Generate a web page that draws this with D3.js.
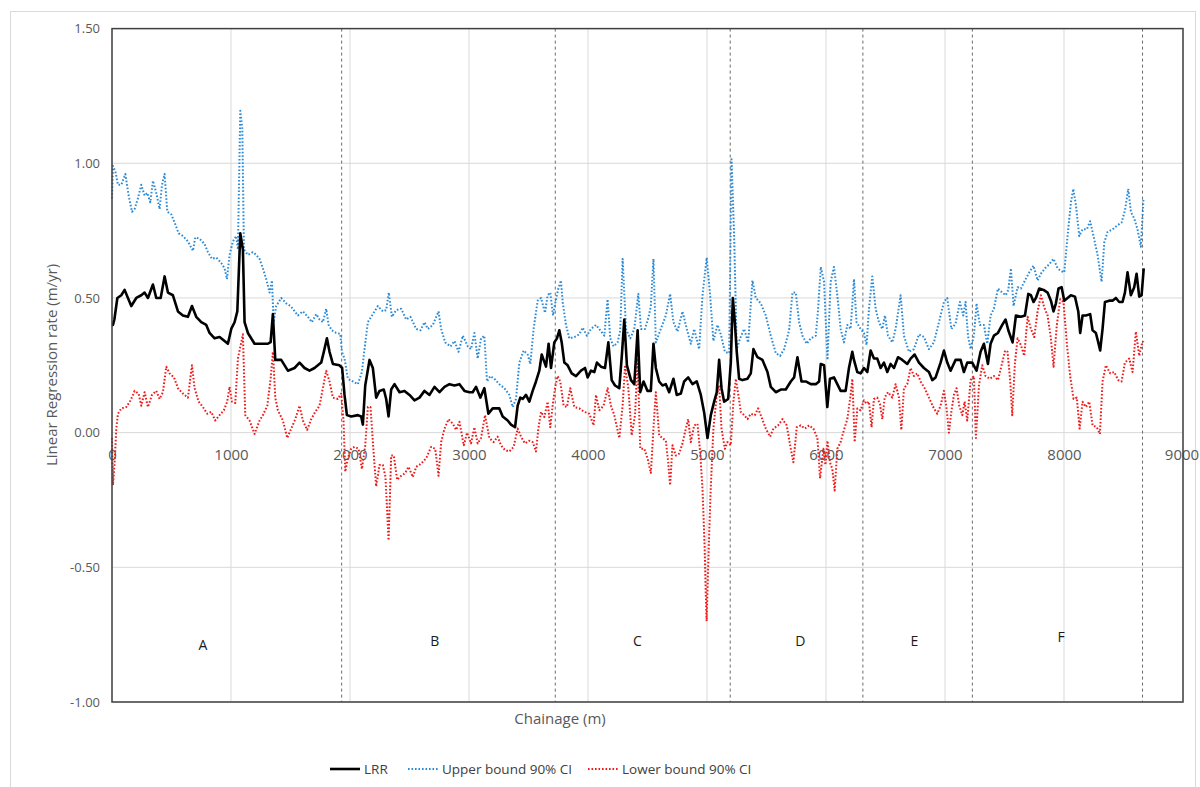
<!DOCTYPE html>
<html>
<head>
<meta charset="utf-8">
<script src="https://cdn.jsdelivr.net/npm/d3@7"></script>
<style>
  body { margin: 0; background: #fff; }
  svg { font-family: "Open Sans", sans-serif; }
</style>
</head>
<body>
<svg width="1200" height="787"></svg>
<script>
// [chainage (m), rate (m/yr)]
const lrr = [[0,0.40],[8,0.40],[20,0.42],[45,0.50],[78,0.51],[106,0.53],[134,0.50],[162,0.47],[204,0.50],[246,0.51],[274,0.52],[302,0.50],[344,0.55],[372,0.50],[409,0.50],[442,0.58],[470,0.52],[512,0.51],[554,0.45],[596,0.435],[638,0.43],[672,0.47],[708,0.43],[750,0.41],[792,0.40],[820,0.37],[862,0.35],[904,0.355],[946,0.34],[974,0.33],[1002,0.385],[1030,0.41],[1053,0.45],[1078,0.74],[1100,0.68],[1114,0.41],[1142,0.37],[1198,0.33],[1254,0.33],[1310,0.33],[1333,0.336],[1352,0.44],[1372,0.27],[1422,0.27],[1478,0.23],[1534,0.24],[1576,0.26],[1618,0.24],[1660,0.23],[1702,0.24],[1758,0.26],[1780,0.30],[1806,0.35],[1828,0.30],[1856,0.255],[1912,0.25],[1934,0.24],[1954,0.14],[1974,0.065],[2010,0.06],[2066,0.065],[2094,0.06],[2108,0.03],[2128,0.175],[2164,0.27],[2192,0.24],[2220,0.13],[2248,0.155],[2284,0.16],[2304,0.125],[2324,0.06],[2346,0.16],[2374,0.18],[2416,0.15],[2458,0.155],[2500,0.14],[2542,0.12],[2584,0.13],[2626,0.155],[2668,0.14],[2710,0.17],[2752,0.15],[2794,0.17],[2836,0.18],[2878,0.175],[2920,0.18],[2962,0.155],[3004,0.15],[3031,0.15],[3059,0.17],[3095,0.13],[3129,0.165],[3163,0.07],[3199,0.09],[3255,0.09],[3283,0.06],[3325,0.045],[3353,0.03],[3387,0.02],[3409,0.10],[3431,0.13],[3451,0.125],[3479,0.14],[3507,0.115],[3535,0.155],[3563,0.19],[3591,0.23],[3611,0.29],[3627,0.27],[3647,0.245],[3669,0.33],[3689,0.24],[3717,0.335],[3739,0.35],[3759,0.38],[3779,0.335],[3801,0.26],[3829,0.25],[3863,0.22],[3899,0.21],[3941,0.23],[3975,0.24],[3997,0.205],[4025,0.23],[4053,0.225],[4075,0.26],[4109,0.245],[4143,0.24],[4171,0.335],[4199,0.195],[4227,0.175],[4263,0.165],[4285,0.29],[4305,0.42],[4327,0.25],[4361,0.195],[4389,0.18],[4417,0.38],[4439,0.15],[4467,0.19],[4500,0.155],[4528,0.155],[4550,0.33],[4570,0.24],[4598,0.19],[4626,0.175],[4654,0.18],[4682,0.15],[4718,0.20],[4746,0.14],[4780,0.145],[4808,0.19],[4842,0.205],[4878,0.18],[4914,0.19],[4948,0.14],[4976,0.075],[5004,-0.02],[5032,0.065],[5060,0.115],[5082,0.15],[5102,0.27],[5122,0.165],[5144,0.115],[5178,0.125],[5200,0.26],[5217,0.50],[5234,0.41],[5250,0.30],[5270,0.20],[5298,0.195],[5340,0.20],[5368,0.22],[5390,0.31],[5424,0.28],[5466,0.27],[5508,0.225],[5536,0.17],[5578,0.15],[5620,0.16],[5662,0.16],[5704,0.19],[5732,0.205],[5760,0.28],[5794,0.19],[5830,0.19],[5872,0.18],[5914,0.18],[5942,0.19],[5956,0.255],[5984,0.25],[6011,0.095],[6033,0.20],[6067,0.205],[6095,0.18],[6123,0.155],[6165,0.155],[6193,0.24],[6221,0.30],[6235,0.27],[6263,0.225],[6291,0.22],[6319,0.24],[6347,0.225],[6375,0.305],[6403,0.275],[6431,0.275],[6459,0.24],[6487,0.26],[6515,0.225],[6543,0.255],[6571,0.24],[6605,0.28],[6641,0.27],[6683,0.255],[6711,0.275],[6745,0.29],[6781,0.26],[6823,0.24],[6865,0.225],[6893,0.195],[6921,0.205],[6963,0.26],[6991,0.305],[7019,0.26],[7047,0.23],[7089,0.27],[7131,0.27],[7159,0.225],[7187,0.26],[7229,0.26],[7265,0.23],[7299,0.30],[7327,0.33],[7361,0.255],[7383,0.33],[7411,0.36],[7445,0.37],[7481,0.40],[7509,0.42],[7532,0.38],[7568,0.335],[7596,0.435],[7638,0.43],[7672,0.435],[7700,0.515],[7722,0.51],[7744,0.485],[7764,0.50],[7792,0.535],[7828,0.53],[7862,0.52],[7890,0.49],[7912,0.45],[7932,0.48],[7954,0.535],[7980,0.54],[8002,0.49],[8030,0.50],[8058,0.51],[8092,0.505],[8120,0.45],[8136,0.37],[8156,0.435],[8184,0.435],[8220,0.44],[8240,0.38],[8268,0.37],[8288,0.335],[8304,0.305],[8324,0.385],[8344,0.485],[8380,0.49],[8408,0.49],[8436,0.50],[8464,0.485],[8492,0.485],[8512,0.52],[8534,0.595],[8562,0.51],[8590,0.54],[8610,0.59],[8632,0.505],[8652,0.51],[8670,0.61]];

const upper = [[0,0.87],[8,0.99],[28,0.97],[50,0.92],[78,0.92],[112,0.96],[140,0.88],[168,0.82],[190,0.83],[218,0.87],[246,0.92],[274,0.88],[297,0.89],[322,0.855],[344,0.935],[372,0.89],[400,0.83],[420,0.92],[442,0.96],[465,0.82],[498,0.81],[526,0.78],[560,0.74],[596,0.73],[638,0.71],[680,0.675],[700,0.725],[736,0.72],[778,0.70],[806,0.67],[840,0.645],[876,0.65],[918,0.63],[946,0.61],[966,0.57],[988,0.66],[1016,0.71],[1044,0.73],[1058,0.68],[1078,1.195],[1095,1.13],[1109,0.68],[1142,0.66],[1184,0.67],[1212,0.66],[1240,0.645],[1268,0.61],[1296,0.57],[1324,0.52],[1344,0.565],[1358,0.41],[1380,0.47],[1422,0.50],[1464,0.48],[1500,0.47],[1520,0.46],[1562,0.435],[1604,0.45],[1646,0.43],[1680,0.41],[1716,0.44],[1744,0.42],[1772,0.41],[1800,0.46],[1820,0.40],[1848,0.38],[1884,0.37],[1918,0.367],[1932,0.30],[1954,0.275],[1982,0.20],[2024,0.19],[2066,0.18],[2100,0.225],[2122,0.31],[2150,0.41],[2178,0.43],[2206,0.45],[2234,0.47],[2276,0.45],[2304,0.455],[2326,0.52],[2352,0.43],[2388,0.455],[2430,0.46],[2472,0.42],[2508,0.43],[2556,0.385],[2592,0.38],[2626,0.41],[2654,0.385],[2696,0.40],[2744,0.45],[2766,0.385],[2800,0.335],[2844,0.32],[2878,0.34],[2912,0.30],[2948,0.36],[2990,0.32],[3017,0.31],[3045,0.37],[3073,0.275],[3101,0.35],[3129,0.36],[3151,0.19],[3179,0.21],[3213,0.20],[3255,0.18],[3297,0.165],[3339,0.14],[3367,0.095],[3395,0.125],[3423,0.26],[3459,0.305],[3493,0.29],[3515,0.255],[3543,0.385],[3577,0.49],[3605,0.50],[3639,0.445],[3661,0.51],[3683,0.52],[3706,0.435],[3731,0.495],[3751,0.535],[3773,0.565],[3787,0.485],[3815,0.40],[3843,0.35],[3885,0.355],[3927,0.365],[3955,0.39],[3991,0.36],[4025,0.385],[4067,0.40],[4103,0.38],[4137,0.36],[4165,0.495],[4187,0.35],[4215,0.32],[4249,0.335],[4271,0.38],[4291,0.645],[4319,0.385],[4355,0.35],[4389,0.385],[4423,0.515],[4445,0.385],[4479,0.385],[4510,0.43],[4528,0.47],[4550,0.645],[4570,0.335],[4612,0.385],[4654,0.435],[4690,0.515],[4718,0.41],[4752,0.375],[4794,0.45],[4830,0.385],[4864,0.33],[4892,0.385],[4934,0.31],[4962,0.51],[4998,0.65],[5026,0.51],[5054,0.34],[5088,0.40],[5116,0.365],[5150,0.30],[5186,0.295],[5206,1.015],[5228,0.73],[5250,0.31],[5278,0.35],[5312,0.385],[5346,0.335],[5382,0.565],[5410,0.50],[5452,0.48],[5494,0.435],[5536,0.36],[5578,0.295],[5614,0.285],[5648,0.31],[5690,0.38],[5718,0.52],[5746,0.52],[5774,0.41],[5802,0.36],[5838,0.33],[5872,0.35],[5914,0.36],[5934,0.46],[5956,0.615],[5984,0.56],[6012,0.27],[6039,0.56],[6067,0.615],[6095,0.51],[6123,0.385],[6151,0.335],[6179,0.40],[6207,0.385],[6235,0.57],[6257,0.41],[6291,0.385],[6319,0.37],[6341,0.325],[6361,0.46],[6389,0.58],[6417,0.46],[6445,0.41],[6473,0.385],[6495,0.435],[6521,0.36],[6557,0.335],[6585,0.385],[6627,0.51],[6655,0.36],[6697,0.30],[6739,0.31],[6781,0.365],[6823,0.355],[6865,0.31],[6907,0.335],[6949,0.41],[6991,0.485],[7019,0.50],[7053,0.385],[7089,0.405],[7125,0.485],[7153,0.435],[7173,0.485],[7193,0.36],[7215,0.31],[7243,0.36],[7265,0.48],[7293,0.40],[7327,0.40],[7355,0.33],[7383,0.435],[7411,0.46],[7445,0.535],[7481,0.52],[7510,0.51],[7532,0.53],[7554,0.61],[7576,0.47],[7610,0.54],[7638,0.535],[7672,0.565],[7708,0.595],[7744,0.62],[7778,0.565],[7806,0.59],[7840,0.61],[7876,0.625],[7912,0.645],[7946,0.61],[7974,0.60],[8002,0.595],[8030,0.73],[8058,0.855],[8078,0.905],[8100,0.845],[8128,0.73],[8156,0.755],[8192,0.755],[8220,0.785],[8248,0.73],[8282,0.66],[8316,0.56],[8338,0.705],[8366,0.745],[8408,0.755],[8450,0.77],[8484,0.78],[8512,0.825],[8540,0.905],[8562,0.82],[8590,0.795],[8618,0.755],[8646,0.69],[8668,0.87]];

const lower = [[0,-0.02],[8,-0.195],[22,-0.11],[36,0.015],[50,0.07],[78,0.09],[120,0.095],[157,0.12],[190,0.155],[224,0.145],[246,0.10],[274,0.15],[302,0.095],[336,0.14],[372,0.155],[400,0.125],[428,0.15],[456,0.245],[484,0.22],[521,0.205],[554,0.165],[596,0.145],[638,0.13],[672,0.25],[694,0.165],[728,0.115],[764,0.095],[800,0.07],[834,0.077],[868,0.045],[904,0.065],[940,0.083],[968,0.115],[988,0.17],[1008,0.115],[1036,0.11],[1058,0.275],[1086,0.335],[1100,0.365],[1120,0.065],[1156,0.045],[1198,-0.005],[1240,0.045],[1268,0.065],[1305,0.10],[1333,0.20],[1352,0.30],[1372,0.13],[1394,0.083],[1436,0.045],[1473,-0.02],[1506,0.015],[1540,0.05],[1576,0.10],[1604,0.045],[1640,0.01],[1674,0.05],[1708,0.077],[1744,0.10],[1772,0.165],[1800,0.23],[1828,0.19],[1856,0.13],[1898,0.125],[1926,0.145],[1946,0.04],[1960,-0.145],[1982,-0.095],[2010,-0.06],[2038,-0.053],[2072,-0.06],[2100,-0.135],[2128,-0.047],[2150,0.095],[2172,0.095],[2198,-0.07],[2220,-0.2],[2248,-0.12],[2276,-0.12],[2298,-0.165],[2324,-0.40],[2346,-0.085],[2368,-0.085],[2396,-0.175],[2430,-0.16],[2464,-0.15],[2492,-0.127],[2528,-0.165],[2556,-0.127],[2598,-0.115],[2640,-0.095],[2682,-0.053],[2716,-0.06],[2744,-0.16],[2766,-0.035],[2794,0.015],[2828,0.05],[2864,0.033],[2892,0.01],[2920,0.04],[2956,-0.047],[2984,0.0],[3017,-0.04],[3045,0.02],[3073,-0.04],[3101,-0.02],[3135,0.065],[3171,-0.02],[3207,-0.035],[3241,-0.015],[3269,-0.047],[3303,-0.065],[3339,-0.07],[3375,-0.053],[3409,0.015],[3437,-0.015],[3471,-0.04],[3507,-0.03],[3535,-0.035],[3563,-0.07],[3583,0.015],[3605,0.077],[3633,0.058],[3661,0.115],[3683,0.02],[3703,0.10],[3723,0.165],[3745,0.21],[3767,0.19],[3795,0.10],[3823,0.095],[3851,0.165],[3885,0.095],[3927,0.09],[3969,0.077],[4011,0.07],[4047,0.027],[4067,0.14],[4095,0.083],[4131,0.10],[4165,0.165],[4193,0.10],[4221,0.065],[4263,-0.02],[4291,0.10],[4311,0.245],[4339,0.165],[4367,-0.01],[4395,0.065],[4417,0.275],[4439,-0.06],[4473,-0.06],[4500,-0.095],[4528,-0.15],[4550,0.015],[4570,0.15],[4598,-0.01],[4626,-0.02],[4654,-0.03],[4674,-0.11],[4690,-0.195],[4710,-0.047],[4738,-0.085],[4766,-0.078],[4794,-0.04],[4822,0.015],[4842,0.05],[4864,-0.035],[4892,0.027],[4920,0.033],[4942,-0.07],[4962,-0.21],[4980,-0.42],[4990,-0.60],[4997,-0.70],[5006,-0.55],[5018,-0.38],[5030,-0.22],[5054,0.015],[5082,0.14],[5102,0.175],[5122,0.015],[5150,-0.06],[5172,-0.035],[5200,-0.047],[5222,0.115],[5242,0.20],[5262,0.145],[5284,0.077],[5312,0.065],[5340,0.05],[5368,0.07],[5402,0.065],[5430,0.09],[5458,0.058],[5494,0.015],[5530,-0.015],[5558,0.015],[5598,0.027],[5634,0.05],[5670,0.027],[5704,-0.06],[5726,-0.11],[5754,0.02],[5788,0.027],[5822,0.015],[5858,0.027],[5894,0.015],[5928,-0.02],[5950,-0.17],[5978,-0.06],[5995,-0.12],[6012,-0.03],[6033,-0.11],[6053,-0.135],[6073,-0.215],[6095,-0.06],[6123,-0.035],[6151,0.01],[6179,0.05],[6207,0.14],[6221,0.20],[6241,-0.035],[6263,0.09],[6291,0.083],[6319,0.12],[6341,0.107],[6361,0.115],[6383,0.02],[6403,0.125],[6431,0.13],[6453,0.107],[6473,0.05],[6493,0.13],[6521,0.15],[6557,0.13],[6585,0.18],[6613,0.13],[6633,0.01],[6655,0.165],[6683,0.18],[6711,0.24],[6739,0.21],[6767,0.22],[6795,0.19],[6829,0.165],[6865,0.13],[6901,0.095],[6935,0.07],[6963,0.10],[6991,0.155],[7013,0.09],[7033,0.0],[7053,0.077],[7075,0.14],[7097,0.165],[7120,0.10],[7145,0.065],[7165,0.115],[7187,0.045],[7215,0.195],[7243,0.21],[7260,-0.02],[7285,0.175],[7313,0.25],[7341,0.21],[7377,0.20],[7411,0.21],[7445,0.195],[7481,0.26],[7505,0.305],[7526,0.30],[7548,0.19],[7565,0.065],[7588,0.26],[7610,0.35],[7638,0.325],[7666,0.285],[7694,0.43],[7722,0.385],[7750,0.355],[7778,0.45],[7806,0.51],[7834,0.465],[7862,0.435],[7890,0.35],[7912,0.245],[7940,0.40],[7968,0.495],[7996,0.485],[8024,0.33],[8052,0.21],[8080,0.125],[8108,0.13],[8131,0.015],[8156,0.115],[8184,0.095],[8212,0.115],[8240,0.027],[8276,0.02],[8302,-0.005],[8324,0.19],[8352,0.25],[8388,0.22],[8422,0.225],[8456,0.195],[8484,0.19],[8512,0.26],[8548,0.275],[8576,0.225],[8604,0.375],[8632,0.285],[8652,0.325],[8668,0.34]];

const zoneBounds = [1930, 3725, 5195, 6310, 7230, 8660];
const zoneNames = ['A', 'B', 'C', 'D', 'E', 'F'];
const zoneLabelX = [764, 2712, 4416, 5785, 6742, 7976];
const zoneLabelY = [-0.79, -0.775, -0.775, -0.775, -0.775, -0.76];

const xTicks = d3.range(0, 9001, 1000);
const yTicks = [-1, -0.5, 0, 0.5, 1, 1.5];

const series = [
  { name: 'LRR', data: lrr, color: '#000000', width: 2.6, dash: null },
  { name: 'Upper bound 90% CI', data: upper, color: '#2b8ad6', width: 2, dash: '1.6,1.9' },
  { name: 'Lower bound 90% CI', data: lower, color: '#f01818', width: 2, dash: '1.6,1.9' }
];

const svg = d3.select('svg');
const margin = { top: 28.6, right: 17, bottom: 85, left: 112 };
const width = 1200 - margin.left - margin.right;
const height = 702 - margin.top;

// outer chart border
svg.append('rect')
  .attr('x', 10.5).attr('y', 11.5)
  .attr('width', 1185).attr('height', 800)
  .attr('fill', 'none').attr('stroke', '#d9d9d9');

const x = d3.scaleLinear().domain([0, 9000]).range([0, width]);
const y = d3.scaleLinear().domain([-1, 1.5]).range([height, 0]);

const g = svg.append('g').attr('transform', `translate(${margin.left},${margin.top})`);

// gridlines
g.append('g').selectAll('line').data(yTicks).enter().append('line')
  .attr('x1', 0).attr('x2', width)
  .attr('y1', d => y(d)).attr('y2', d => y(d))
  .attr('stroke', '#d9d9d9').attr('stroke-width', 1);
g.append('g').selectAll('line').data(xTicks).enter().append('line')
  .attr('x1', d => x(d)).attr('x2', d => x(d))
  .attr('y1', 0).attr('y2', height)
  .attr('stroke', '#d9d9d9').attr('stroke-width', 1);

// zone boundaries
g.append('g').selectAll('line').data(zoneBounds).enter().append('line')
  .attr('x1', d => x(d)).attr('x2', d => x(d))
  .attr('y1', 0).attr('y2', height)
  .attr('stroke', '#6b6b6b').attr('stroke-width', 1)
  .attr('stroke-dasharray', '3,3');

// axes
const yAxis = g.append('g')
  .call(d3.axisLeft(y).tickValues(yTicks).tickSize(0).tickPadding(12).tickFormat(d => d.toFixed(2)));
yAxis.select('.domain').remove();
yAxis.selectAll('text').attr('font-size', 13).attr('fill', '#595959')
  .attr('font-family', '"Open Sans", sans-serif');

const xAxis = g.append('g')
  .attr('transform', `translate(0,${y(0)})`)
  .call(d3.axisBottom(x).tickValues(xTicks).tickSize(0).tickPadding(17).tickFormat(d3.format('d')));
xAxis.select('.domain').remove();
xAxis.selectAll('text').attr('font-size', 15).attr('fill', '#595959')
  .attr('font-family', '"Open Sans", sans-serif')
  .attr('dx', d => d === 9000 ? -1.5 : 0);

// lines
const line = d3.line().x(d => x(d[0])).y(d => y(d[1]));
series.slice().reverse().forEach(s => {
  g.append('path')
    .datum(s.data)
    .attr('d', line)
    .attr('fill', 'none')
    .attr('stroke', s.color)
    .attr('stroke-width', s.width)
    .attr('stroke-linejoin', 'round')
    .attr('stroke-dasharray', s.dash);
});

// plot frame
g.append('rect')
  .attr('width', width).attr('height', height)
  .attr('fill', 'none').attr('stroke', '#404040').attr('stroke-width', 1.5);

// zone labels
g.append('g').selectAll('text').data(zoneNames).enter().append('text')
  .attr('x', (d, i) => x(zoneLabelX[i]))
  .attr('y', (d, i) => y(zoneLabelY[i]))
  .attr('text-anchor', 'middle').attr('dy', '0.35em')
  .attr('font-size', 14).attr('fill', '#1a1a1a')
  .text(d => d);

// axis titles
svg.append('text')
  .attr('transform', 'translate(52,365) rotate(-90)')
  .attr('text-anchor', 'middle').attr('dy', '0.35em')
  .attr('font-size', 15).attr('fill', '#595959')
  .text('Linear Regression rate (m/yr)');

svg.append('text')
  .attr('x', 560).attr('y', 719)
  .attr('text-anchor', 'middle').attr('dy', '0.35em')
  .attr('font-size', 15).attr('fill', '#595959')
  .text('Chainage (m)');

// legend
const legendX = [330, 408, 588];
const legend = svg.append('g').attr('transform', 'translate(0,769)');
series.forEach((s, i) => {
  legend.append('line')
    .attr('x1', legendX[i]).attr('x2', legendX[i] + 30)
    .attr('stroke', s.color).attr('stroke-width', s.width)
    .attr('stroke-dasharray', s.dash);
  legend.append('text')
    .attr('x', legendX[i] + 34).attr('dy', '0.35em')
    .attr('font-size', 13.5).attr('fill', '#404040')
    .text(s.name);
});
</script>
</body>
</html>
